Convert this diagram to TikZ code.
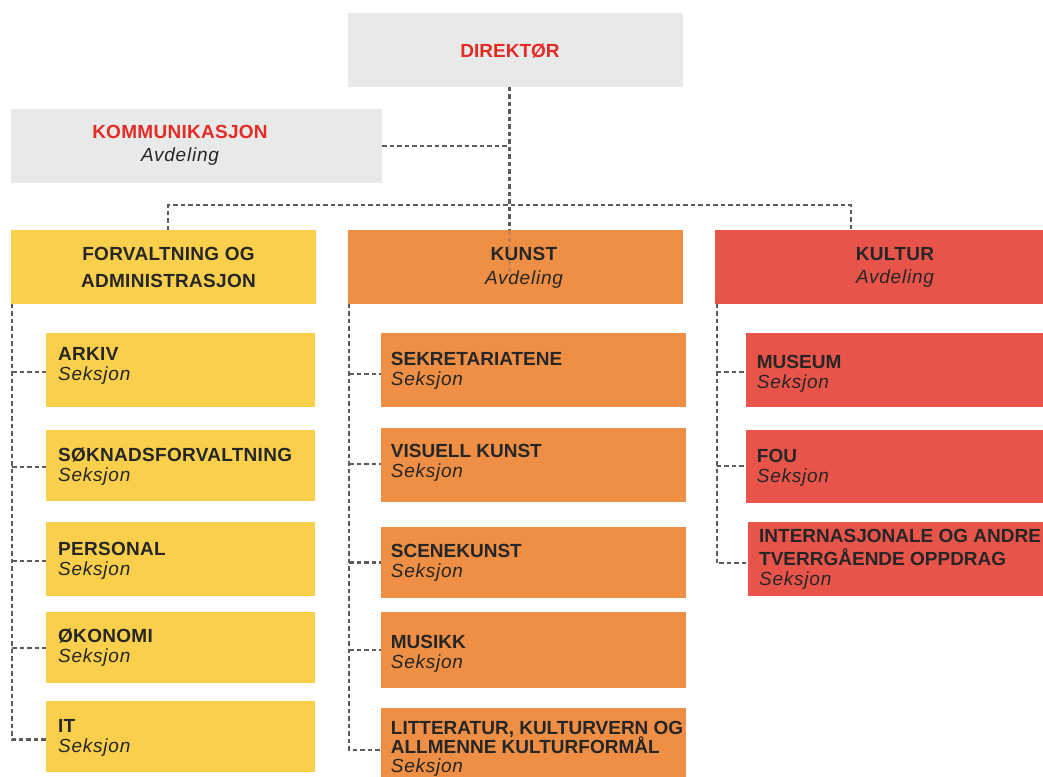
\documentclass[tikz,border=0pt]{standalone}
\usepackage{fontspec}
\setmainfont{Liberation Sans}
\definecolor{grayfill}{HTML}{E8E9E9}
\definecolor{yel}{HTML}{F9CF4C}
\definecolor{ora}{HTML}{EE8F45}
\definecolor{redbox}{HTML}{E9544A}
\definecolor{redtxt}{HTML}{E42B25}
\definecolor{ink}{HTML}{262626}
\definecolor{lineg}{HTML}{5C5C5C}
\newcommand\fsz{\fontsize{19}{20}\selectfont}
\newcommand\spw{\addfontfeatures{LetterSpace=1.5}}
\newcommand\spi{\addfontfeatures{LetterSpace=4}}
\tikzset{
  box/.style={draw=none, inner sep=0pt, outer sep=0pt, anchor=north west},
  ttl/.style={font=\bfseries\fsz, text=ink, inner sep=0pt, anchor=base west},
  ttlw/.style={font=\bfseries\fsz\spw, text=ink, inner sep=0pt, anchor=base west},
  sub/.style={font=\itshape\fsz\spi, text=ink, inner sep=0pt, anchor=base west},
  ttlc/.style={ttlw, anchor=base},
  subc/.style={sub, anchor=base},
  conn/.style={draw=lineg, line width=2.3pt, dash pattern=on 4.5pt off 3pt},
}
\begin{document}
\begin{tikzpicture}[x=1pt, y=-1pt]
\useasboundingbox (0,0) rectangle (1043,776);
% top level
\node[box, fill=grayfill, minimum width=335pt, minimum height=73.4pt] (dir) at (348,13.3) {};
\node[ttl, anchor=base, text=redtxt] (dir-t) at (510,57.3) {DIREKTØR};
\node[box, fill=grayfill, minimum width=371pt, minimum height=73.7pt] (komm) at (11,109) {};
\node[ttlc, text=redtxt] (komm-t) at (180,138) {KOMMUNIKASJON};
\node[subc] (komm-s) at (180,161.3) {Avdeling};
% departments
\node[box, fill=yel, minimum width=305pt, minimum height=73.5pt] (forv) at (11,230) {};
\node[ttlc] (forv-t1) at (168.5,260) {FORVALTNING OG};
\node[ttlc] (forv-t2) at (168.5,287.3) {ADMINISTRASJON};
\node[box, fill=ora, minimum width=335pt, minimum height=73.5pt] (kunst) at (348,230) {};
\node[ttlc] (kunst-t) at (524,260) {KUNST};
\node[subc] (kunst-s) at (524,284) {Avdeling};
\node[box, fill=redbox, minimum width=340pt, minimum height=73.5pt] (kultur) at (715,230) {};
\node[ttlc] (kultur-t) at (895,260) {KULTUR};
\node[subc] (kultur-s) at (895,283.3) {Avdeling};
% left column
\node[box, fill=yel, minimum width=269pt, minimum height=73.5pt] (arkiv) at (46,333.2) {};
\node[ttlw] (arkiv-t) at (58,360.7) {ARKIV};
\node[sub] (arkiv-s) at (58,380.5) {Seksjon};
\node[box, fill=yel, minimum width=269pt, minimum height=70.7pt] (sokn) at (46,430) {};
\node[ttlw] (sokn-t) at (58,461.7) {SØKNADSFORVALTNING};
\node[sub] (sokn-s) at (58,481.7) {Seksjon};
\node[box, fill=yel, minimum width=269pt, minimum height=73.4pt] (pers) at (46,522.3) {};
\node[ttlw] (pers-t) at (58,555) {PERSONAL};
\node[sub] (pers-s) at (58,575) {Seksjon};
\node[box, fill=yel, minimum width=269pt, minimum height=70.4pt] (okon) at (46,612.3) {};
\node[ttlw] (okon-t) at (58,642.3) {ØKONOMI};
\node[sub] (okon-s) at (58,662.3) {Seksjon};
\node[box, fill=yel, minimum width=269pt, minimum height=70.7pt] (it) at (46,701) {};
\node[ttlw] (it-t) at (58,732.3) {IT};
\node[sub] (it-s) at (58,752.3) {Seksjon};
% middle column
\node[box, fill=ora, minimum width=304.7pt, minimum height=73.4pt] (sekr) at (381,333.3) {};
\node[ttl] (sekr-t) at (390.7,365) {SEKRETARIATENE};
\node[sub] (sekr-s) at (390.7,385) {Seksjon};
\node[box, fill=ora, minimum width=304.7pt, minimum height=73.4pt] (vis) at (381,428.3) {};
\node[ttl] (vis-t) at (390.7,457.3) {VISUELL KUNST};
\node[sub] (vis-s) at (390.7,477.3) {Seksjon};
\node[box, fill=ora, minimum width=304.7pt, minimum height=70.4pt] (scene) at (381,527.3) {};
\node[ttl] (scene-t) at (390.7,557.3) {SCENEKUNST};
\node[sub] (scene-s) at (390.7,577.3) {Seksjon};
\node[box, fill=ora, minimum width=304.7pt, minimum height=75.4pt] (mus) at (381,612.3) {};
\node[ttl] (mus-t) at (390.7,648.3) {MUSIKK};
\node[sub] (mus-s) at (390.7,668.3) {Seksjon};
\node[box, fill=ora, minimum width=304.7pt, minimum height=80pt] (litt) at (381,708.3) {};
\node[ttl] (litt-t1) at (390.7,734) {LITTERATUR, KULTURVERN OG};
\node[ttl] (litt-t2) at (390.7,753.7) {ALLMENNE KULTURFORMÅL};
\node[sub] (litt-s) at (390.7,772.7) {Seksjon};
% right column
\node[box, fill=redbox, minimum width=305pt, minimum height=73.4pt] (museum) at (746,333.3) {};
\node[ttl] (museum-t) at (756.7,368.3) {MUSEUM};
\node[sub] (museum-s) at (756.7,388.3) {Seksjon};
\node[box, fill=redbox, minimum width=305pt, minimum height=73.3pt] (fou) at (746,430) {};
\node[ttl] (fou-t) at (756.7,462.3) {FOU};
\node[sub] (fou-s) at (756.7,482.3) {Seksjon};
\node[box, fill=redbox, minimum width=303pt, minimum height=73.4pt] (intl) at (748,522.3) {};
\node[ttl] (intl-t1) at (759,542.3) {INTERNASJONALE OG ANDRE};
\node[ttl] (intl-t2) at (759,565.7) {TVERRGÅENDE OPPDRAG};
\node[sub] (intl-s) at (759,585.7) {Seksjon};
% connectors: top
\coordinate (dx) at (509.5,86.7);
\draw[conn] (dx) -- (dx |- kunst.north);
\draw[conn, draw=ora!75!lineg] (dx |- kunst.north) -- ([yshift=-43pt]dx |- kunst.north);
\draw[conn] (komm.east) -- (komm.east -| dx);
\coordinate (fl) at (168.3,205);
\coordinate (kr) at (851,205);
\draw[conn] (fl |- forv.north) -- (fl) -- (kr) -- (kr |- kultur.north);
% left trunk
\coordinate (lt) at (12.3,303.5);
\draw[conn] (lt) |- ([yshift=-3pt]it.west);
\draw[conn] ([yshift=-2.3pt]arkiv.west -| lt) -- ([yshift=-2.3pt]arkiv.west);
\draw[conn] ([yshift=-1.3pt]sokn.west -| lt) -- ([yshift=-1.3pt]sokn.west);
\draw[conn] ([yshift=-1.7pt]pers.west -| lt) -- ([yshift=-1.7pt]pers.west);
\draw[conn] ([yshift=-0.8pt]okon.west -| lt) -- ([yshift=-0.8pt]okon.west);
% middle trunk
\coordinate (mt) at (349.3,303.5);
\draw[conn] (mt) |- ([yshift=-1.7pt]litt.west);
\draw[conn] ([yshift=-4pt]sekr.west -| mt) -- ([yshift=-4pt]sekr.west);
\draw[conn] ([yshift=0.7pt]vis.west -| mt) -- ([yshift=0.7pt]vis.west);
\draw[conn] (scene.west -| mt) -- (scene.west);
\draw[conn] (mus.west -| mt) -- (mus.west);
% right trunk
\coordinate (rt) at (716.7,303.5);
\draw[conn] (rt) |- ([yshift=-4.3pt]intl.west);
\draw[conn] ([yshift=-2.3pt]museum.west -| rt) -- ([yshift=-2.3pt]museum.west);
\draw[conn] ([yshift=1pt]fou.west -| rt) -- ([yshift=1pt]fou.west);
\end{tikzpicture}
\end{document}
